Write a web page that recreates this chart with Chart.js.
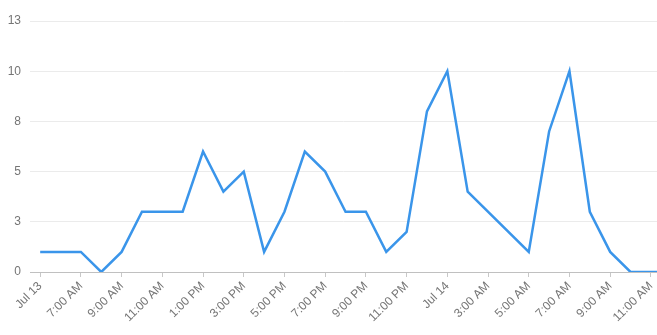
<!DOCTYPE html>
<html>
<head>
<meta charset="utf-8">
<script src="https://cdn.jsdelivr.net/npm/chart.js@4/dist/chart.umd.min.js"></script>
<style>
html,body{margin:0;padding:0;background:#fff;}
#wrap{width:657px;height:335px;position:relative;}
</style>
</head>
<body>
<div id="wrap"><canvas id="c"></canvas></div>
<script>
// hours since Jul 13 5:00 AM
const hours = [0,1,2,3,4,5,6,7,8,9,10,11,12,13,14,15,16,17,18,19,20,21,24,25,26,27,28,29,30,31];
const values = [1,1,1,0,1,3,3,3,6,4,5,1,3,6,5,3,3,1,2,8,10,4,1,7,10,3,1,0,0,0];
const tickHours = [0,2,4,6,8,10,12,14,16,18,20,22,24,26,28,30];
const tickLabels = ["Jul 13","7:00 AM","9:00 AM","11:00 AM","1:00 PM","3:00 PM","5:00 PM","7:00 PM","9:00 PM","11:00 PM","Jul 14","3:00 AM","5:00 AM","7:00 AM","9:00 AM","11:00 AM"];
const yTicks = [0,2.5,5,7.5,10,12.5];

const points = hours.map((h,i)=>({x:h,y:values[i]}));

new Chart(document.getElementById('c'), {
  type: 'line',
  data: {
    datasets: [{
      data: points,
      borderColor: '#3a95ea',
      borderWidth: 2.5,
      pointRadius: 0,
      tension: 0,
      fill: false
    }]
  },
  options: {
    responsive: true,
    maintainAspectRatio: false,
    animation: false,
    layout: {padding: {left: 0, right: 0, top: 21, bottom: 0}},
    plugins: {legend: {display: false}, tooltip: {enabled: false}},
    scales: {
      x: {
        type: 'linear',
        min: -0.5,
        max: 30.3,
        afterBuildTicks: (s) => { s.ticks = tickHours.map(v => ({value: v})); },
        afterFit: (s) => { s.height = 63; s.paddingRight = 0; s.paddingLeft = 0; },
        grid: {drawOnChartArea: false, drawTicks: true, tickLength: 5, color: '#c8c8c8'},
        border: {display: true, color: '#c0c0c0'},
        ticks: {
          autoSkip: false,
          minRotation: 45,
          maxRotation: 45,
          color: '#757575',
          font: {family: 'Liberation Sans, Arial, sans-serif', size: 12},
          padding: 2,
          callback: (v) => { const i = tickHours.indexOf(v); return i >= 0 ? tickLabels[i] : ''; }
        }
      },
      y: {
        min: 0,
        max: 12.5,
        afterBuildTicks: (s) => { s.ticks = yTicks.map(v => ({value: v})); },
        afterFit: (s) => { s.width = 30; },
        grid: {drawTicks: false, color: '#ebebeb'},
        border: {display: false},
        ticks: {
          color: '#757575',
          font: {family: 'Liberation Sans, Arial, sans-serif', size: 12},
          padding: 9,
          callback: (v) => String(Math.round(v))
        }
      }
    }
  }
});
</script>
</body>
</html>
